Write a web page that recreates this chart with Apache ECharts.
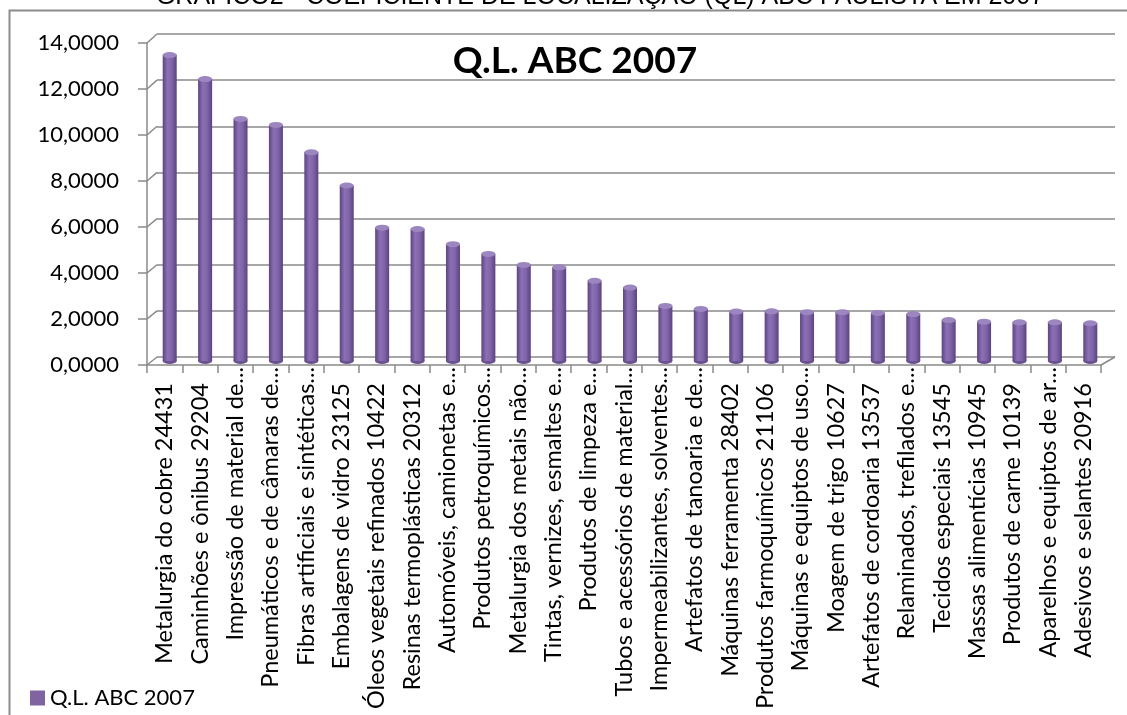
<!DOCTYPE html>
<html>
<head>
<meta charset="utf-8">
<script src="https://cdn.jsdelivr.net/npm/echarts@6/dist/echarts.min.js"></script>
<style>
  html, body { margin: 0; padding: 0; background: #fff; }
  #main { width: 1127px; height: 715px; }
</style>
</head>
<body>
<div id="main"></div>
<script>
const categories = [
  'Metalurgia do cobre 24431',
  'Caminhões e ônibus 29204',
  'Impressão de material de...',
  'Pneumáticos e de câmaras de...',
  'Fibras artificiais e sintéticas...',
  'Embalagens de vidro 23125',
  'Óleos vegetais refinados 10422',
  'Resinas termoplásticas 20312',
  'Automóveis, camionetas e...',
  'Produtos petroquímicos...',
  'Metalurgia dos metais não...',
  'Tintas, vernizes, esmaltes e...',
  'Produtos de limpeza e...',
  'Tubos e acessórios de material...',
  'Impermeabilizantes, solventes...',
  'Artefatos de tanoaria e de...',
  'Máquinas ferramenta 28402',
  'Produtos farmoquímicos 21106',
  'Máquinas e equiptos de uso...',
  'Moagem de trigo 10627',
  'Artefatos de cordoaria 13537',
  'Relaminados, trefilados e...',
  'Tecidos especiais 13545',
  'Massas alimentícias 10945',
  'Produtos de carne 10139',
  'Aparelhos e equiptos de ar...',
  'Adesivos e selantes 20916'
];
const qlValues = [
  13.29, 12.25, 10.52, 10.26, 9.07, 7.63, 5.80, 5.74, 5.08, 4.66,
  4.18, 4.08, 3.49, 3.20, 2.40, 2.27, 2.16, 2.17, 2.13, 2.13,
  2.10, 2.05, 1.79, 1.72, 1.69, 1.69, 1.65
];
const yTicks = [0, 2, 4, 6, 8, 10, 12, 14];
const seriesName = 'Q.L. ABC 2007';
const chartTitle = 'Q.L. ABC 2007';
const pageTitle = 'GRÁFICO2 - COEFICIENTE DE LOCALIZAÇÃO (QL) ABC PAULISTA EM 2007';

const W = 1127;
const gray = '#8a8a8a';
const yMin = yTicks[0];
const yMax = yTicks[yTicks.length - 1];
const yStep = yTicks[1] - yTicks[0];
const fmt = v => v.toFixed(4).replace('.', ',');

// fake 3d: back wall (gridlines), middle (bars), front (axes + labels)
const back = { left: 157, right: 12, top: 34, bottom: 358 };
const mid = { left: 152, right: 19, top: 38.5, bottom: 354 };
const front = { left: 147, right: 26, top: 43, bottom: 350 };

const chart = echarts.init(document.getElementById('main'));

const barColor = new echarts.graphic.LinearGradient(0, 0, 1, 0, [
  { offset: 0, color: '#5c4582' },
  { offset: 0.35, color: '#8c70b5' },
  { offset: 0.65, color: '#8064a8' },
  { offset: 1, color: '#5a437e' }
]);

const labelFont = { fontFamily: 'Lato', fontSize: 23.5, color: '#000' };

const option = {
  animation: false,
  grid: [back, mid, front],
  xAxis: [
    { gridIndex: 0, type: 'category', data: categories, show: false },
    { gridIndex: 1, type: 'category', data: categories, show: false },
    {
      gridIndex: 2, type: 'category', data: categories,
      axisLine: { lineStyle: { color: gray, width: 1.5 } },
      axisTick: { show: true, length: 8, lineStyle: { color: gray, width: 1.5 } },
      axisLabel: {
        interval: 0, rotate: 90, margin: 2,
        fontFamily: 'Lato', fontSize: 23.5, color: '#000',
        // excel lets the "..." hang into the margin
        formatter: v => v.endsWith('...') ? '{t|' + v + '}' : '{n|' + v + '}',
        rich: {
          n: Object.assign({ padding: [0, 16, 0, 0] }, labelFont),
          t: Object.assign({ padding: [0, 0, 0, 0] }, labelFont)
        }
      }
    }
  ],
  yAxis: [
    {
      gridIndex: 0, type: 'value', min: yMin, max: yMax, interval: yStep,
      axisLine: { show: false }, axisTick: { show: false }, axisLabel: { show: false },
      splitLine: { lineStyle: { color: gray, width: 1.5 } }
    },
    { gridIndex: 1, type: 'value', min: yMin, max: yMax, show: false, splitLine: { show: false } },
    {
      gridIndex: 2, type: 'value', min: yMin, max: yMax, interval: yStep,
      axisLine: { show: true, lineStyle: { color: gray, width: 1.5 } },
      axisTick: { show: true, length: 9, lineStyle: { color: gray, width: 1.5 } },
      axisLabel: { formatter: fmt, margin: 28, fontFamily: 'Lato', fontSize: 22, color: '#000' },
      splitLine: { show: false }
    }
  ],
  legend: {
    data: [seriesName],
    left: 30, top: 687, padding: 0,
    icon: 'rect', itemWidth: 15, itemHeight: 15,
    itemStyle: { color: '#8064a2' },
    textStyle: { fontFamily: 'Lato', fontSize: 22, color: '#000' }
  },
  series: [
    {
      name: seriesName, type: 'bar', xAxisIndex: 1, yAxisIndex: 1,
      barWidth: 14, data: qlValues, z: 3,
      itemStyle: { color: barColor }
    },
    {
      // bottom of the cylinder
      type: 'pictorialBar', xAxisIndex: 1, yAxisIndex: 1, silent: true,
      symbol: 'circle', symbolSize: [14, 6], symbolPosition: 'start', symbolOffset: [0, '50%'],
      data: qlValues, z: 2,
      itemStyle: { color: '#6a5290' }
    },
    {
      // top of the cylinder
      type: 'pictorialBar', xAxisIndex: 1, yAxisIndex: 1, silent: true,
      symbol: 'circle', symbolSize: [14, 6], symbolPosition: 'end', symbolOffset: [0, '-50%'],
      data: qlValues, z: 4,
      itemStyle: { color: '#9b86bf', borderColor: '#6c5494', borderWidth: 0.8 }
    }
  ]
};
chart.setOption(option);

// side wall + floor edges, from the axes themselves
const yFront = v => chart.convertToPixel({ yAxisIndex: 2 }, v);
const yBack = v => chart.convertToPixel({ yAxisIndex: 0 }, v);
const edges = yTicks.map(v => ({
  type: 'line', silent: true,
  shape: { x1: front.left, y1: yFront(v), x2: back.left, y2: yBack(v) },
  style: { stroke: gray, lineWidth: 1.5 }
}));
edges.push({
  type: 'line', silent: true,
  shape: { x1: W - front.right, y1: yFront(0), x2: W - back.right, y2: yBack(0) },
  style: { stroke: gray, lineWidth: 1.5 }
});

chart.setOption({
  graphic: [
    {
      type: 'rect', silent: true,
      shape: { x: 9.5, y: 10.5, width: 1300, height: 900 },
      style: { fill: 'none', stroke: '#8c8c8c', lineWidth: 2 }
    },
    {
      type: 'text', silent: true, x: 600, y: 10,
      style: {
        text: pageTitle, fill: '#000',
        font: '25px "Liberation Sans"', align: 'center', verticalAlign: 'bottom'
      }
    },
    {
      type: 'text', silent: true, x: 575, y: 61, z: 10,
      style: {
        text: chartTitle, fill: '#000',
        font: 'bold 37px Lato', align: 'center', verticalAlign: 'middle'
      }
    }
  ].concat(edges)
});
</script>
</body>
</html>
